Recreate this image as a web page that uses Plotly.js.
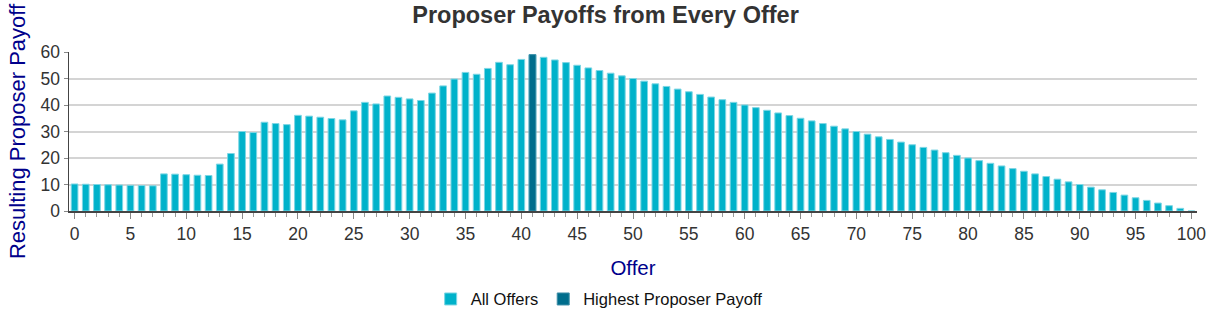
<!DOCTYPE html>
<html>
<head>
<meta charset="utf-8">
<script src="https://cdn.plot.ly/plotly-3.0.1.min.js"></script>
<style>html,body{margin:0;padding:0;background:#fff;}#chart{width:1211px;height:319px;}</style>
</head>
<body>
<div id="chart"></div>
<script>
const offers = [0,1,2,3,4,5,6,7,8,9,10,11,12,13,14,15,16,17,18,19,20,21,22,23,24,25,26,27,28,29,30,31,32,33,34,35,36,37,38,39,40,41,42,43,44,45,46,47,48,49,50,51,52,53,54,55,56,57,58,59,60,61,62,63,64,65,66,67,68,69,70,71,72,73,74,75,76,77,78,79,80,81,82,83,84,85,86,87,88,89,90,91,92,93,94,95,96,97,98,99,100];
const payoffs = [10.2,10.1,10.0,9.9,9.8,9.7,9.6,9.5,14.0,13.9,13.7,13.5,13.4,17.7,21.7,30.0,29.6,33.5,33.0,32.6,36.1,35.8,35.4,34.9,34.4,37.8,41.0,40.4,43.4,42.9,42.3,41.7,44.5,47.2,49.8,52.3,51.6,53.8,56.1,55.2,57.2,59,58,57,56,55,54,53,52,51,50,49,48,47,46,45,44,43,42,41,40,39,38,37,36,35,34,33,32,31,30,29,28,27,26,25,24,23,22,21,20,19,18,17,16,15,14,13,12,11,10,9,8,7,6,5,4,3,2,1,0];
const seriesNames = ["All Offers", "Highest Proposer Payoff"];
const colors = ["#00b2ca", "#006d8c"];

const maxVal = Math.max(...payoffs);
const maxIdx = payoffs.indexOf(maxVal);

const traces = [
  {
    type: 'bar', name: seriesNames[0], x: offers, y: payoffs, width: 0.6,
    marker: {color: colors[0], line: {color: '#7dd6e4', width: 1}},
    hoverinfo: 'x+y'
  },
  {
    type: 'bar', name: seriesNames[1], x: [offers[maxIdx]], y: [maxVal], width: 0.6,
    marker: {color: colors[1], line: {color: '#3f8fa8', width: 1}},
    hoverinfo: 'x+y'
  }
];

const layout = {
  width: 1211, height: 319,
  margin: {l: 69, r: 14, t: 52, b: 108, autoexpand: false},
  paper_bgcolor: '#fff', plot_bgcolor: '#fff',
  barmode: 'overlay',
  font: {family: 'Liberation Sans, Arial, sans-serif', color: '#333'},
  title: {text: '<b>Proposer Payoffs from Every Offer</b>', x: 0.5, xanchor: 'center', yref: 'container', y: 0.953, yanchor: 'middle',
          font: {size: 23.5, color: '#333', family: 'Liberation Sans, Arial, sans-serif'}},
  xaxis: {
    range: [-0.5, 100.5], dtick: 5, tick0: 0,
    showgrid: false, zeroline: false, automargin: false,
    showline: true, linecolor: '#444', linewidth: 1.5,
    ticks: 'outside', ticklen: 6, tickcolor: '#888', tickwidth: 1,
    minor: {dtick: 1, ticks: 'outside', ticklen: 4, tickcolor: '#999', showgrid: false},
    tickfont: {size: 17.5, color: '#333'},
    title: {text: 'Offer', font: {size: 20.5, color: '#00008b'}, standoff: 18}
  },
  yaxis: {
    range: [0, 60], dtick: 10,
    showgrid: true, gridcolor: '#d4d4d4', gridwidth: 2,
    zeroline: false, automargin: false,
    showline: true, linecolor: '#444', linewidth: 1.5,
    ticks: 'outside', ticklen: 4, tickcolor: '#888',
    tickfont: {size: 17.5, color: '#333'},
    title: {text: 'Resulting Proposer Payoff', font: {size: 22, color: '#00008b'}, standoff: 9}
  },
  showlegend: true,
  legend: {orientation: 'h', x: 0.47, xanchor: 'center', y: -0.555, yanchor: 'middle',
           font: {size: 16.5, color: '#111'}, itemwidth: 30, traceorder: 'normal'}
};

Plotly.newPlot('chart', traces, layout, {displayModeBar: false, staticPlot: true});
</script>
</body>
</html>
